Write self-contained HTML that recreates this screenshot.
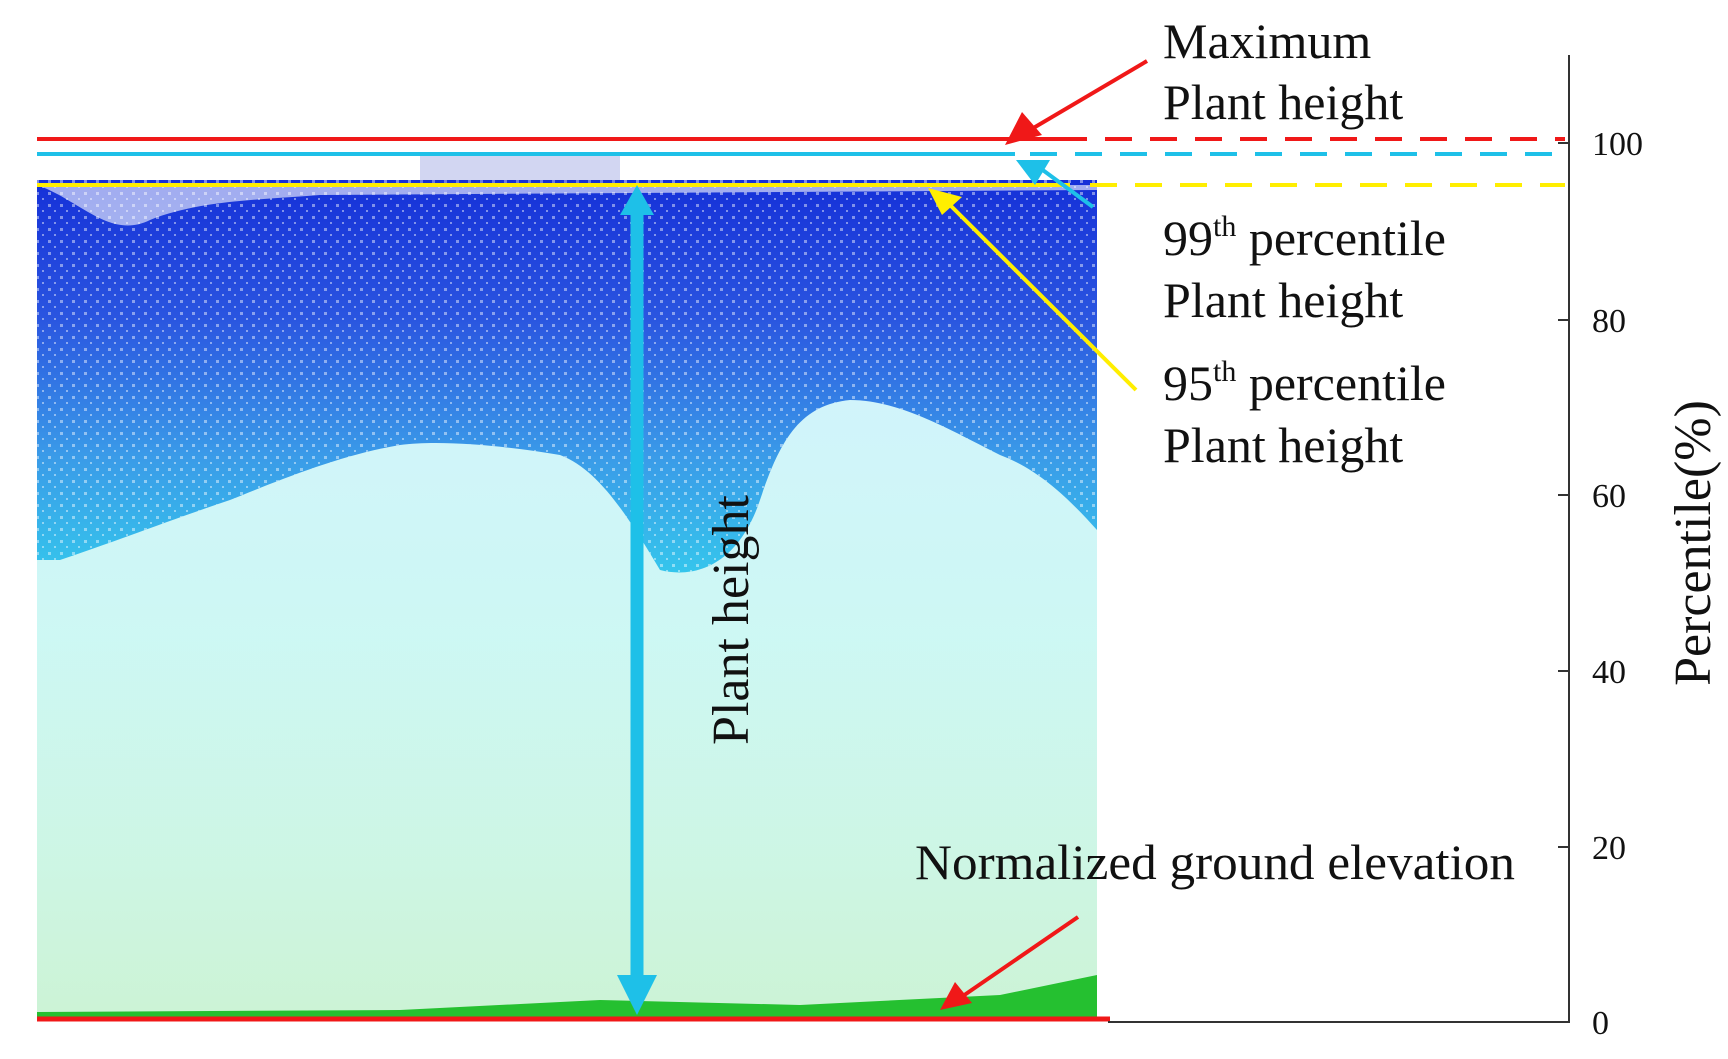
<!DOCTYPE html>
<html><head><meta charset="utf-8"><style>
html,body{margin:0;padding:0;background:#fff;}
svg{display:block;}
text{font-family:"Liberation Serif",serif;fill:#111;}
</style></head><body>
<svg width="1728" height="1059" viewBox="0 0 1728 1059" xmlns="http://www.w3.org/2000/svg">
<defs>
<linearGradient id="g1" x1="0" y1="0" x2="0" y2="1">
<stop offset="0" stop-color="#1530d8"/>
<stop offset="0.35" stop-color="#2a55e0"/>
<stop offset="0.7" stop-color="#3a9ae8"/>
<stop offset="1" stop-color="#35c5ec"/>
</linearGradient>
<linearGradient id="g2" x1="0" y1="0" x2="0" y2="1">
<stop offset="0" stop-color="#40d0f0"/>
<stop offset="0.4" stop-color="#30e0d0"/>
<stop offset="0.75" stop-color="#30d890"/>
<stop offset="1" stop-color="#2ccc50"/>
</linearGradient>
<pattern id="dots" width="12" height="12" patternUnits="userSpaceOnUse">
<rect x="0" y="0" width="3" height="3" fill="#fff"/>
<rect x="6" y="6" width="2" height="2" fill="#fff"/>
</pattern>
</defs>
<rect x="37" y="380" width="1060" height="640" fill="url(#g2)" opacity="0.24"/>
<path d="M37,180 L1097,180 L1097,530 C1070,500 1040,470 1000,455 C950,430 900,400 850,400 C800,405 780,440 760,500 C740,560 700,580 660,570 C630,520 600,470 560,455 C500,445 440,440 400,445 C340,455 280,480 230,500 C170,520 120,540 60,560 L37,560 Z" fill="url(#g1)"/>
<path d="M37,180 L1097,180 L1097,530 C1070,500 1040,470 1000,455 C950,430 900,400 850,400 C800,405 780,440 760,500 C740,560 700,580 660,570 C630,520 600,470 560,455 C500,445 440,440 400,445 C340,455 280,480 230,500 C170,520 120,540 60,560 L37,560 Z" fill="url(#dots)" opacity="0.45"/>
<path d="M37,185 C80,200 110,240 150,220 C200,200 260,200 320,195 L1097,190 L1097,185 Z" fill="#fff" opacity="0.6"/>
<path d="M37,1012 L400,1010 L600,1000 L800,1005 L1000,995 L1097,975 L1097,1019 L37,1019 Z" fill="#25c030"/>
<rect x="420" y="156" width="200" height="28" fill="#2030c0" opacity="0.2"/>
<line x1="37" y1="139" x2="1060" y2="139" stroke="#f01818" stroke-width="4"/>
<line x1="1060" y1="139" x2="1565" y2="139" stroke="#f01818" stroke-width="4" stroke-dasharray="27 18"/>
<line x1="37" y1="154" x2="1015" y2="154" stroke="#1ec0e8" stroke-width="4"/>
<line x1="1030" y1="154" x2="1565" y2="154" stroke="#1ec0e8" stroke-width="4" stroke-dasharray="27 18"/>
<line x1="37" y1="185" x2="1070" y2="185" stroke="#ffee00" stroke-width="4"/>
<line x1="1090" y1="185" x2="1565" y2="185" stroke="#ffee00" stroke-width="4" stroke-dasharray="27 18"/>
<line x1="37" y1="1019" x2="1110" y2="1019" stroke="#f01818" stroke-width="5"/>
<line x1="1569" y1="55" x2="1569" y2="1023" stroke="#333" stroke-width="2"/>
<line x1="1108" y1="1022" x2="1569" y2="1022" stroke="#333" stroke-width="2"/>
<g stroke="#333" stroke-width="2">
<line x1="1558" y1="143" x2="1569" y2="143"/><line x1="1558" y1="320" x2="1569" y2="320"/>
<line x1="1558" y1="495" x2="1569" y2="495"/><line x1="1558" y1="671" x2="1569" y2="671"/>
<line x1="1558" y1="847" x2="1569" y2="847"/>
</g>
<g font-size="34">
<text x="1592" y="155">100</text><text x="1592" y="332">80</text><text x="1592" y="507">60</text>
<text x="1592" y="683">40</text><text x="1592" y="859">20</text><text x="1592" y="1034">0</text>
</g>
<text font-size="52" transform="translate(1710,543) rotate(-90)" text-anchor="middle">Percentile(%)</text>
<line x1="637" y1="205" x2="637" y2="985" stroke="#1ec0e8" stroke-width="13"/>
<polygon points="620,185 654,185 637,215" fill="#1ec0e8" transform="rotate(180 637 200)"/>
<polygon points="617,975 657,975 637,1015" fill="#1ec0e8"/>
<text font-size="52" transform="translate(748,620) rotate(-90)" text-anchor="middle">Plant height</text>
<line x1="1147" y1="61" x2="1030" y2="130" stroke="#f01818" stroke-width="4"/>
<polygon points="1005,145 1022,112 1042,135" fill="#f01818"/>
<line x1="1093" y1="207" x2="1040" y2="168" stroke="#1ec0e8" stroke-width="4"/>
<polygon points="1016,160 1050,160 1035,185" fill="#1ec0e8"/>
<line x1="1136" y1="390" x2="950" y2="205" stroke="#ffee00" stroke-width="4"/>
<polygon points="928,188 962,197 942,215" fill="#ffee00"/>
<line x1="1078" y1="917" x2="960" y2="998" stroke="#f01818" stroke-width="4"/>
<polygon points="940,1010 955,982 972,1003" fill="#f01818"/>
<g font-size="50">
<text x="1163" y="58">Maximum</text>
<text x="1163" y="119">Plant height</text>
<text x="1163" y="255">99<tspan font-size="30" dy="-19">th</tspan><tspan dy="19"> percentile</tspan></text>
<text x="1163" y="317">Plant height</text>
<text x="1163" y="400">95<tspan font-size="30" dy="-19">th</tspan><tspan dy="19"> percentile</tspan></text>
<text x="1163" y="462">Plant height</text>
<text x="915" y="879" textLength="600" lengthAdjust="spacingAndGlyphs">Normalized ground elevation</text>
</g>
</svg>
</body></html>
